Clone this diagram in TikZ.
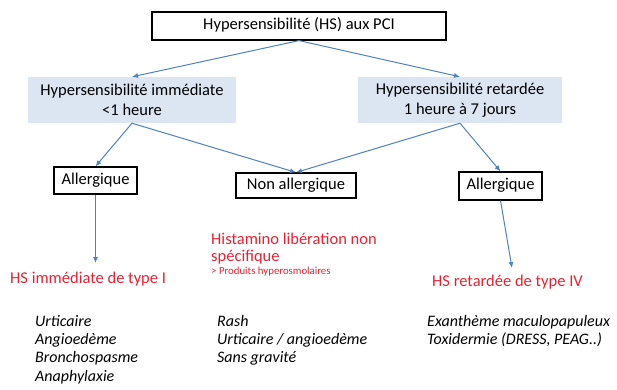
\documentclass[tikz,border=0pt]{standalone}
\usepackage{fontspec}
\setmainfont{Carlito}
\usepackage{tikz}
\usetikzlibrary{arrows.meta, calc, positioning}
\usepackage{xcolor}
\definecolor{LinkBlue}{RGB}{79, 129, 189}
\definecolor{PaleBlue}{RGB}{220, 230, 242}
\definecolor{AlertRed}{RGB}{230, 34, 50}
\tikzset{%
  hs_box/.style={%
    rectangle,%
    draw=black,%
    line width=1.2pt,%
    inner sep=0pt,%
    text height=11pt,%
    text depth=3.5pt,%
    font={\fontsize{16.5}{19}\selectfont},%
    align=center%
  },
  delay_box/.style={%
    rectangle,%
    fill=PaleBlue,%
    inner sep=0pt,%
    minimum height=46pt,%
    font={\fontsize{16.5}{20}\selectfont},%
    align=center%
  },
  red_label/.style={%
    color=AlertRed,%
    anchor=west,%
    inner sep=0pt,%
    text height=11pt,%
    text depth=3.5pt,%
    font={\fontsize{16.5}{19}\selectfont},%
  },
  small_label/.style={%
    color=AlertRed,%
    anchor=west,%
    inner sep=0pt,%
    font={\fontsize{10.8}{12}\selectfont},%
  },
  sign_list/.style={%
    anchor=north west,%
    inner sep=0pt,%
    align=left,%
    font={\fontsize{16}{18.3}\selectfont\itshape},%
  },
  link_path/.style={%
    color=LinkBlue,%
    line width=1pt,%
    line join=round,%
  },
  arrow/.style={-{Latex[length=6pt, width=5pt]}},
}

\begin{document}
\begin{tikzpicture}[x=1pt, y=-1pt]
    \useasboundingbox (0, 0) rectangle (617, 389);

    \node [hs_box, minimum width=294pt, minimum height=28pt] (HSPCI)
      at (299, 26) {Hypersensibilité (HS) aux PCI};
    \node [delay_box, minimum width=208pt] (HSimm)
      at (132, 100) {Hypersensibilité immédiate\\<1 heure};
    \node [delay_box, minimum width=204pt] (HSret)
      at (460, 100) {Hypersensibilité retardée\\1 heure à 7 jours};

    \node [hs_box, minimum width=83pt, minimum height=27pt] (AllergL)
      at (95.5, 180.5) {Allergique};
    \node [hs_box, minimum width=120pt, minimum height=25pt] (NonAll)
      at (296, 185.5) {Non allergique};
    \node [hs_box, minimum width=83pt, minimum height=28pt] (AllergR)
      at (500.5, 186) {Allergique};

    \coordinate (TypeIin) at (95.5, 263);
    \coordinate (TypeIVin) at (512, 268);

    \node [red_label] (TypeI) at (10, 280) {HS immédiate de type I};
    \node [red_label] (Histamino) at (211, 241) {Histamino libération non};
    \node [red_label] (Specifique) at (211, 258) {spécifique};
    \node [small_label] (Produits) at (211, 272) {> Produits hyperosmolaires};
    \node [red_label] (TypeIV) at (432, 283) {HS retardée de type IV};

    \node [sign_list] (ImmSigns) at (35, 315)
      {Urticaire\\Angioedème\\Bronchospasme\\Anaphylaxie};
    \node [sign_list] (NonSigns) at (217, 315)
      {Rash\\Urticaire / angioedème\\Sans gravité};
    \node [sign_list] (RetSigns) at (427, 315)
      {Exanthème maculopapuleux\\Toxidermie (DRESS, PEAG..)};

    \draw [arrow, link_path] (HSPCI.south) -- (HSimm.north);
    \draw [arrow, link_path] (HSPCI.south) -- (HSret.north);
    \draw [arrow, link_path] (HSimm.south) -- (AllergL.north);
    \draw [arrow, link_path] (HSimm.south) -- (NonAll.north);
    \draw [arrow, link_path] (HSret.south) -- (NonAll.north);
    \draw [arrow, link_path] (HSret.south) -- (AllergR.north);
    \draw [arrow, link_path] (AllergL.south) -- (TypeIin);
    \draw [arrow, link_path] (AllergR.south) -- (TypeIVin);
  \end{tikzpicture}
\end{document}
